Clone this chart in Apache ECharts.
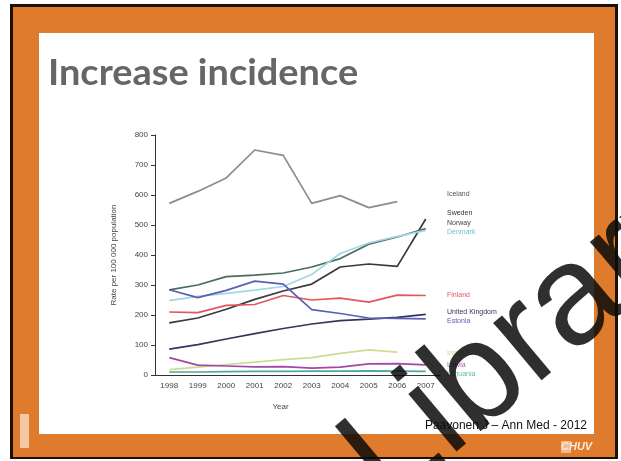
<!DOCTYPE html>
<html><head><meta charset="utf-8">
<script src="https://cdn.jsdelivr.net/npm/echarts@6/dist/echarts.min.js"></script>
<style>html,body{margin:0;padding:0;background:#fff}#c{width:621px;height:461px}</style>
</head><body><div id="c"></div>
<script>
const years = ['1998','1999','2000','2001','2002','2003','2004','2005','2006','2007'];
const countries = ['Iceland','Sweden','Norway','Denmark','Finland','United Kingdom','Estonia','Ireland','Latvia','Lithuania'];
const iceland   = [572, 612, 657, 750, 732, 572, 598, 558, 578, null];
const sweden    = [174, 190, 219, 252, 280, 303, 360, 370, 362, 520];
const norway    = [284, 300, 328, 333, 340, 360, 388, 436, 460, 488];
const denmark   = [248, 262, 272, 283, 295, 335, 405, 440, 462, 482];
const finland   = [210, 208, 232, 235, 265, 250, 256, 243, 266, 265];
const uk        = [86, 101, 120, 138, 155, 170, 181, 186, 192, 202];
const estonia   = [284, 258, 282, 313, 303, 218, 205, 190, 189, 187];
const ireland   = [18, 26, 35, 43, 51, 58, 72, 84, 76, null];
const latvia    = [58, 33, 30, 27, 28, 23, 26, 37, 38, 34];
const lithuania = [10, 10, 11, 12, 12, 13, 13, 14, 13, 12];
const labelValues = [603, 541, 508, 478, 267, 209, 181, 73, 33, 3];
const title = 'Increase incidence';
const citation = 'Paavonen J \u2013 Ann Med - 2012';

const seriesData = [iceland, sweden, norway, denmark, finland, uk, estonia, ireland, latvia, lithuania];
const lineColors = ['#8c8c8c','#3a3a3a','#4b6b5c','#9fd8e4','#e2575a','#35355f','#5a5fb5','#cbdc94','#a545a5','#4fa8a0'];
const labelColors = ['#555','#333','#444','#6cc0d8','#e2575a','#35355f','#5a5fb5','#cbdc94','#b05ab0','#5fb8b0'];

const chart = echarts.init(document.getElementById('c'), null, {renderer:'canvas'});
const font = 'Liberation Sans';
const option = {
  backgroundColor: '#fff',
  animation: false,
  grid: {left:155, top:135, width:285, height:240},
  xAxis: {
    type:'category', data: years, boundaryGap:true,
    name:'Year', nameLocation:'middle', nameGap:28,
    nameTextStyle:{color:'#444', fontSize:8, fontFamily:font, padding:[0,34,0,0]},
    axisLine:{lineStyle:{color:'#333', width:1}},
    axisTick:{inside:true, length:4, lineStyle:{color:'#333'}},
    axisLabel:{color:'#444', fontSize:8, fontFamily:font, margin:7},
    splitLine:{show:false}
  },
  yAxis: {
    type:'value', min:0, max:800, interval:100,
    name:'Rate per 100 000 population', nameLocation:'middle', nameGap:37,
    nameTextStyle:{color:'#444', fontSize:8, fontFamily:font},
    axisLine:{show:true, lineStyle:{color:'#333', width:1}},
    axisTick:{show:true, length:4, lineStyle:{color:'#333'}},
    axisLabel:{color:'#444', fontSize:8, fontFamily:font, margin:7},
    splitLine:{show:false}
  },
  series: seriesData.map((d,i)=>({
    type:'line', name:countries[i], data:d, symbol:'none', connectNulls:false,
    lineStyle:{color:lineColors[i], width:1.7}, z:2
  }))
};
chart.setOption(option);

const graphics = [
  {type:'rect', z:-10, shape:{x:10,y:4,width:608,height:455}, style:{fill:'#1a1208'}},
  {type:'rect', z:-9, shape:{x:13,y:7,width:602,height:450}, style:{fill:'#df7b2c'}},
  {type:'rect', z:-8, shape:{x:39,y:33,width:555,height:401}, style:{fill:'#ffffff'}},
  {type:'rect', z:-7, shape:{x:20,y:414,width:9,height:34}, style:{fill:'#f2c9a2'}},
  {type:'rect', z:-7, shape:{x:561,y:441,width:10,height:12}, style:{fill:'#f0b98e'}},
  {type:'text', z:5, x:561, y:447, style:{text:'CHUV', font:'italic bold 11px "Liberation Sans"', fill:'#fbe9da', verticalAlign:'middle'}},
  {type:'text', z:5, x:48, y:73, scaleX:1.025, style:{text:title, font:'bold 37px Lato', fill:'#666666', verticalAlign:'middle'}},
  {type:'text', z:5, x:587, y:426, style:{text:citation, font:'12px "Liberation Sans"', fill:'#111', align:'right', verticalAlign:'middle'}}
];
countries.forEach((c,i)=>{
  const y = chart.convertToPixel({yAxisIndex:0}, labelValues[i]);
  graphics.push({type:'text', z:5, x:447, y:y, style:{text:c, font:'7px "Liberation Sans"', fill:labelColors[i], verticalAlign:'middle'}});
});
graphics.push({type:'text', z:50, x:318, y:424, rotation:40*Math.PI/180,
  style:{text:'Library', font:'142px "Liberation Sans"', fill:'rgba(10,10,10,0.85)', verticalAlign:'top'}});
chart.setOption({graphic: graphics});
</script></body></html>
